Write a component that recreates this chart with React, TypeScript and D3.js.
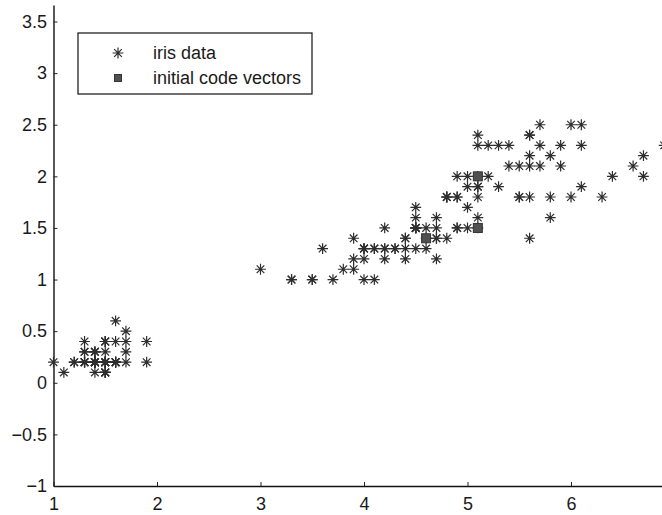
import { useEffect, useRef } from 'react';
import * as d3 from 'd3';

// iris data: petal length (x) and petal width (y)
const petalLength = [
  1.4, 1.4, 1.3, 1.5, 1.4, 1.7, 1.4, 1.5, 1.4, 1.5, 1.5, 1.6, 1.4, 1.1, 1.2, 1.5, 1.3, 1.4, 1.7, 1.5,
  1.7, 1.5, 1.0, 1.7, 1.9, 1.6, 1.6, 1.5, 1.4, 1.6, 1.6, 1.5, 1.5, 1.4, 1.5, 1.2, 1.3, 1.5, 1.3, 1.5,
  1.3, 1.3, 1.3, 1.6, 1.9, 1.4, 1.6, 1.4, 1.5, 1.4,
  4.7, 4.5, 4.9, 4.0, 4.6, 4.5, 4.7, 3.3, 4.6, 3.9, 3.5, 4.2, 4.0, 4.7, 3.6, 4.4, 4.5, 4.1, 4.5, 3.9,
  4.8, 4.0, 4.9, 4.7, 4.3, 4.4, 4.8, 5.0, 4.5, 3.5, 3.8, 3.7, 3.9, 5.1, 4.5, 4.5, 4.7, 4.4, 4.1, 4.0,
  4.4, 4.6, 4.0, 3.3, 4.2, 4.2, 4.2, 4.3, 3.0, 4.1,
  6.0, 5.1, 5.9, 5.6, 5.8, 6.6, 4.5, 6.3, 5.8, 6.1, 5.1, 5.3, 5.5, 5.0, 5.1, 5.3, 5.5, 6.7, 6.9, 5.0,
  5.7, 4.9, 6.7, 4.9, 5.7, 6.0, 4.8, 4.9, 5.6, 5.8, 6.1, 6.4, 5.6, 5.1, 5.6, 6.1, 5.6, 5.5, 4.8, 5.4,
  5.6, 5.1, 5.1, 5.9, 5.7, 5.2, 5.0, 5.2, 5.4, 5.1,
];
const petalWidth = [
  0.2, 0.2, 0.2, 0.2, 0.2, 0.4, 0.3, 0.2, 0.2, 0.1, 0.2, 0.2, 0.1, 0.1, 0.2, 0.4, 0.4, 0.3, 0.3, 0.3,
  0.2, 0.4, 0.2, 0.5, 0.2, 0.2, 0.4, 0.2, 0.2, 0.2, 0.2, 0.4, 0.1, 0.2, 0.1, 0.2, 0.2, 0.1, 0.2, 0.2,
  0.3, 0.3, 0.2, 0.6, 0.4, 0.3, 0.2, 0.2, 0.2, 0.2,
  1.4, 1.5, 1.5, 1.3, 1.5, 1.3, 1.6, 1.0, 1.3, 1.4, 1.0, 1.5, 1.0, 1.4, 1.3, 1.4, 1.5, 1.0, 1.5, 1.1,
  1.8, 1.3, 1.5, 1.2, 1.3, 1.4, 1.4, 1.7, 1.5, 1.0, 1.1, 1.0, 1.2, 1.6, 1.5, 1.6, 1.5, 1.3, 1.3, 1.3,
  1.2, 1.4, 1.2, 1.0, 1.3, 1.2, 1.3, 1.3, 1.1, 1.3,
  2.5, 1.9, 2.1, 1.8, 2.2, 2.1, 1.7, 1.8, 1.8, 2.5, 2.0, 1.9, 2.1, 2.0, 2.4, 2.3, 1.8, 2.2, 2.3, 1.5,
  2.3, 2.0, 2.0, 1.8, 2.1, 1.8, 1.8, 1.8, 2.1, 1.6, 1.9, 2.0, 2.2, 1.5, 1.4, 2.3, 2.4, 1.8, 1.8, 2.1,
  2.4, 2.3, 1.9, 2.3, 2.5, 2.3, 1.9, 2.0, 2.3, 1.8,
];

// initial code vectors
const codeX = [4.6, 5.1, 5.1];
const codeY = [1.4, 1.5, 2.0];

const xTicks = [1, 2, 3, 4, 5, 6];
const yTicks = [-1, -0.5, 0, 0.5, 1, 1.5, 2, 2.5, 3, 3.5];
const legendLabels = ['iris data', 'initial code vectors'];

const FONT = '"Liberation Sans", Arial, Helvetica, sans-serif';

const starPath = (r: number) => {
  const d = r * Math.SQRT1_2;
  return `M${-r},0L${r},0M0,${-r}L0,${r}M${-d},${-d}L${d},${d}M${-d},${d}L${d},${-d}`;
};

const App = () => {
  const svgRef = useRef<SVGSVGElement>(null);

  useEffect(() => {
    const width = 662;
    const height = 515;

    const svg = d3.select(svgRef.current);
    svg.selectAll('*').remove();
    svg.attr('width', width).attr('height', height);

    svg.append('rect').attr('width', width).attr('height', height).attr('fill', '#fff');

    // scales (right part of the axes runs past the picture edge)
    const x = d3.scaleLinear().domain([1, 7]).range([53.5, 674.5]);
    const y = d3.scaleLinear().domain([-1, 3.66]).range([486, 5]);

    // axes, ticks point inward
    const xAxis = d3.axisBottom(x)
      .tickValues(xTicks)
      .tickFormat(d3.format('~g'))
      .tickSizeInner(-4)
      .tickSizeOuter(0)
      .tickPadding(11);

    const yAxis = d3.axisLeft(y)
      .tickValues(yTicks)
      .tickFormat((d) => d3.format('~g')(d as number).replace('-', '\u2212'))
      .tickSizeInner(-4)
      .tickSizeOuter(0)
      .tickPadding(6.5);

    const gx = svg.append('g')
      .attr('transform', `translate(0,${y(-1)})`)
      .call(xAxis);

    const gy = svg.append('g')
      .attr('transform', `translate(${x(1)},0)`)
      .call(yAxis);

    [gx, gy].forEach((g) => {
      g.select('.domain').attr('stroke', '#111').attr('stroke-width', 1.4);
      g.selectAll('.tick line').attr('stroke', '#222').attr('stroke-width', 1);
      g.selectAll('.tick text')
        .style('font-family', FONT)
        .style('font-size', '18px')
        .attr('fill', '#1a1a1a');
    });

    // iris data points
    svg.append('g')
      .selectAll('path')
      .data(petalLength.map((v, i) => [v, petalWidth[i]]))
      .enter().append('path')
      .attr('transform', (d) => `translate(${x(d[0])},${y(d[1])})`)
      .attr('d', starPath(5.4))
      .attr('fill', 'none')
      .attr('stroke', '#2e2e2e')
      .attr('stroke-width', 1.2);

    // initial code vectors
    const sq = 9;
    svg.append('g')
      .selectAll('rect')
      .data(codeX.map((v, i) => [v, codeY[i]]))
      .enter().append('rect')
      .attr('x', (d) => x(d[0]) - sq / 2)
      .attr('y', (d) => y(d[1]) - sq / 2)
      .attr('width', sq)
      .attr('height', sq)
      .attr('fill', '#505050')
      .attr('stroke', '#333')
      .attr('stroke-width', 1);

    // legend
    const legend = svg.append('g').attr('transform', 'translate(78,33)');
    legend.append('rect')
      .attr('width', 234)
      .attr('height', 61)
      .attr('fill', '#fff')
      .attr('stroke', '#111')
      .attr('stroke-width', 1.2);

    const rows = legend.selectAll('.legend-row')
      .data(legendLabels)
      .enter().append('g')
      .attr('class', 'legend-row')
      .attr('transform', (_d, i) => `translate(0,${20 + i * 25})`);

    rows.filter((_d, i) => i === 0)
      .append('path')
      .attr('transform', 'translate(40,0)')
      .attr('d', starPath(5.4))
      .attr('fill', 'none')
      .attr('stroke', '#2e2e2e')
      .attr('stroke-width', 1.2);

    rows.filter((_d, i) => i === 1)
      .append('rect')
      .attr('x', 36.5)
      .attr('y', -3.5)
      .attr('width', 7)
      .attr('height', 7)
      .attr('fill', '#505050')
      .attr('stroke', '#333');

    rows.append('text')
      .attr('x', 75)
      .attr('y', 0)
      .attr('dy', '.35em')
      .style('font-family', FONT)
      .style('font-size', '18px')
      .attr('fill', '#1a1a1a')
      .text((d) => d);
  }, []);

  return (
    <svg ref={svgRef} style={{ position: 'absolute', left: 0, top: 0, display: 'block' }}></svg>
  );
};

export default App;
